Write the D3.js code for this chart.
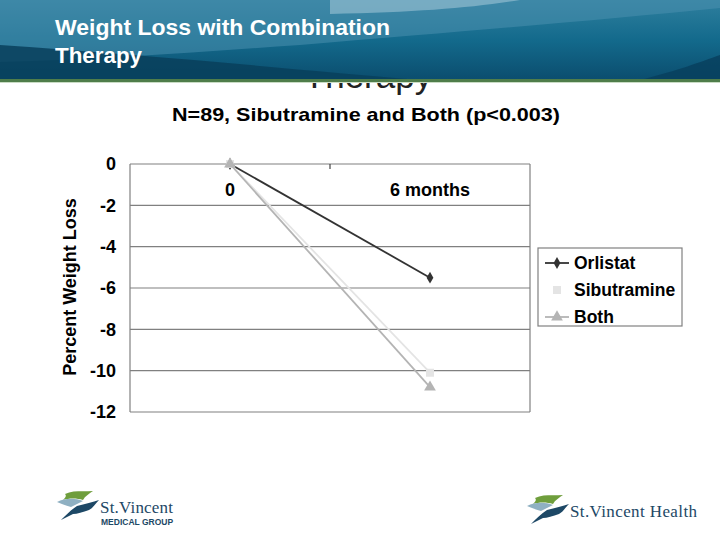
<!DOCTYPE html>
<html><head><meta charset="utf-8">
<script src="https://cdn.jsdelivr.net/npm/d3@7"></script>
<style>body{margin:0;background:#fff}svg{display:block;font-family:"Liberation Sans",Arial,sans-serif}</style>
</head><body><svg id="c" width="720" height="540"></svg>
<script>
const categories = ["0", "6 months"];
const seriesNames = ["Orlistat", "Sibutramine", "Both"];
const orlistat = [0, -5.5];
const sibutramine = [0, -10.1];
const both = [0, -10.8];
const yTicks = [0, -2, -4, -6, -8, -10, -12];
const headerTitle = ["Weight Loss with Combination", "Therapy"];
const chartTitle = "N=89, Sibutramine and Both (p<0.003)";
const yTitle = "Percent Weight Loss";

const svg = d3.select("#c");
const W = 720, H = 540;
const defs = svg.append("defs");

// ghost text behind banner
svg.append("text").attr("x", 368).attr("y", 88).attr("text-anchor", "middle")
  .attr("font-size", 35).attr("fill", "#222").text("Therapy");

// banner
const g1 = defs.append("linearGradient").attr("id", "bg").attr("x1", 0).attr("y1", 0).attr("x2", 0).attr("y2", 1);
g1.append("stop").attr("offset", "0").attr("stop-color", "#2f7f9e");
g1.append("stop").attr("offset", "0.5").attr("stop-color", "#136a8c");
g1.append("stop").attr("offset", "1").attr("stop-color", "#0b4d6e");
svg.append("rect").attr("x", 0).attr("y", 0).attr("width", W).attr("height", 80).attr("fill", "url(#bg)");
svg.append("path").attr("d", "M0,0 L720,0 L720,8 C600,20 480,30 300,45 C200,52 100,60 0,62 Z").attr("fill", "#4a8fae").attr("opacity", 0.55);
svg.append("path").attr("d", "M330,0 L520,0 C470,8 420,12 330,14 Z").attr("fill", "#9fc4d6").attr("opacity", 0.6);
svg.append("path").attr("d", "M0,45 C150,55 300,70 420,80 L0,80 Z").attr("fill", "#083f5c").attr("opacity", 0.85);
svg.append("path").attr("d", "M640,80 C680,70 700,62 720,55 L720,80 Z").attr("fill", "#083f5c").attr("opacity", 0.8);
svg.append("rect").attr("x", 0).attr("y", 79).attr("width", W).attr("height", 3).attr("fill", "#4f7d4a");
svg.append("rect").attr("x", 0).attr("y", 82).attr("width", W).attr("height", 1).attr("fill", "#c9dcc4");

const ht = svg.append("text").attr("fill", "#fff").attr("font-size", 22).attr("font-weight", "bold");
headerTitle.forEach((t, i) => ht.append("tspan").attr("x", 55).attr("y", 35 + i * 28)
  .attr("textLength", i === 0 ? 335 : 87).attr("lengthAdjust", "spacingAndGlyphs").text(t));

// chart title
svg.append("text").attr("x", 366).attr("y", 121).attr("text-anchor", "middle")
  .attr("font-size", 19).attr("font-weight", "bold").attr("fill", "#000")
  .attr("textLength", 388).attr("lengthAdjust", "spacingAndGlyphs").text(chartTitle);

// plot area
const L = 130, R = 530, T = 164, B = 412;
const x = d3.scaleBand().domain(categories).range([L, R]);
const y = d3.scaleLinear().domain([-12, 0]).range([B, T]);

const grid = svg.append("g");
yTicks.forEach(v => grid.append("line").attr("x1", L).attr("x2", R).attr("y1", y(v)).attr("y2", y(v)).attr("stroke", "#808080").attr("stroke-width", 1.2));
grid.append("line").attr("x1", L).attr("x2", L).attr("y1", T).attr("y2", B).attr("stroke", "#808080").attr("stroke-width", 1.2);
grid.append("line").attr("x1", R).attr("x2", R).attr("y1", T).attr("y2", B).attr("stroke", "#808080").attr("stroke-width", 1.2);
svg.append("line").attr("x1", x("6 months")).attr("x2", x("6 months")).attr("y1", T).attr("y2", T + 5).attr("stroke", "#444").attr("stroke-width", 1.2);

// y tick labels
const yAxis = svg.append("g").attr("transform", `translate(${L},0)`)
  .call(d3.axisLeft(y).tickValues(yTicks).tickSize(0).tickPadding(14).tickFormat(d3.format("d")));
yAxis.select(".domain").remove();
yAxis.selectAll("text").attr("font-size", 18).attr("font-weight", "bold").attr("fill", "#000")
  .attr("font-family", "Liberation Sans, Arial, sans-serif").text(d => d === 0 ? "0" : "-" + Math.abs(d));

// category labels
svg.selectAll(".cat").data(categories).join("text").attr("class", "cat")
  .attr("x", d => x(d) + x.bandwidth() / 2).attr("y", 196).attr("text-anchor", "middle")
  .attr("font-size", 18).attr("font-weight", "bold").text(d => d);

// y title
svg.append("text").attr("transform", "translate(76,287) rotate(-90)").attr("text-anchor", "middle")
  .attr("font-size", 18).attr("font-weight", "bold").text(yTitle);

const series = [
  {name: seriesNames[0], values: orlistat, color: "#333333", marker: d3.symbolDiamond, size: 40},
  {name: seriesNames[1], values: sibutramine, color: "#e4e4e4", marker: d3.symbolSquare, size: 64},
  {name: seriesNames[2], values: both, color: "#b4b4b4", marker: d3.symbolTriangle, size: 60}
];
const line = d3.line().x((d, i) => x(categories[i]) + x.bandwidth() / 2).y(d => y(d));
series.forEach(s => {
  svg.append("path").attr("d", line(s.values)).attr("fill", "none").attr("stroke", s.color).attr("stroke-width", 1.8);
  s.values.forEach((v, i) => {
    svg.append("path").attr("d", d3.symbol(s.marker, s.size)())
      .attr("transform", `translate(${x(categories[i]) + x.bandwidth() / 2},${y(v)})`).attr("fill", s.color);
  });
});

// legend
svg.append("rect").attr("x", 538).attr("y", 248).attr("width", 144).attr("height", 78)
  .attr("fill", "#fff").attr("stroke", "#808080").attr("stroke-width", 1.2);
series.forEach((s, i) => {
  const yy = 263 + i * 27;
  if (i !== 1) svg.append("line").attr("x1", 545).attr("x2", 569).attr("y1", yy).attr("y2", yy).attr("stroke", s.color).attr("stroke-width", 1.8);
  svg.append("path").attr("d", d3.symbol(s.marker, s.size)()).attr("transform", `translate(557,${yy})`).attr("fill", s.color);
  svg.append("text").attr("x", 574).attr("y", yy + 6).attr("font-size", 17.5).attr("font-weight", "bold").text(s.name);
});

// logos
function birds(g) {
  g.append("path").attr("d", "M10,4 C18,0 28,2 38,1 C34,4 30,6 28,10 C22,8 14,8 8,10 C10,8 12,6 10,4 Z").attr("fill", "#6f9e3c");
  g.append("path").attr("d", "M2,12 C10,8 20,8 28,11 C24,13 20,15 16,17 C10,15 6,14 2,12 Z").attr("fill", "#8fb0c2");
  g.append("path").attr("d", "M6,30 C12,24 16,20 22,16 C30,14 38,12 44,10 C40,14 38,18 34,20 C28,22 22,24 18,24 C14,26 10,28 6,30 Z").attr("fill", "#1d4866");
}
const lg = svg.append("g").attr("transform", "translate(55,490)"); birds(lg);
svg.append("text").attr("x", 100).attr("y", 513).attr("font-family", "Liberation Serif, serif").attr("font-size", 17).attr("fill", "#1d4866").attr("textLength", 73).text("St.Vincent");
svg.append("text").attr("x", 101).attr("y", 525).attr("font-size", 8.5).attr("font-weight", "bold").attr("fill", "#1d4866").text("MEDICAL GROUP");
const rg = svg.append("g").attr("transform", "translate(525,494)"); birds(rg);
svg.append("text").attr("x", 570).attr("y", 517).attr("font-family", "Liberation Serif, serif").attr("font-size", 17).attr("fill", "#1d4866").attr("textLength", 127).text("St.Vincent Health");
</script></body></html>
